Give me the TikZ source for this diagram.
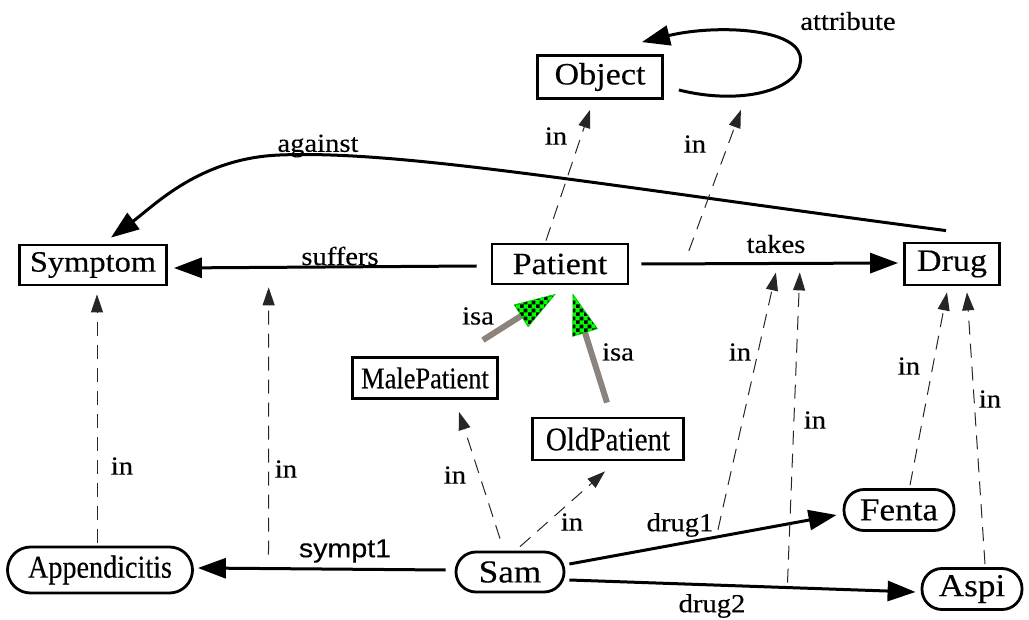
\documentclass[tikz,border=0pt]{standalone}
\usepackage{fontspec}
\setmainfont[FakeStretch=1.1,FakeBold=0.3]{Liberation Serif}
\newfontfamily\narrowserif[FakeStretch=0.88,FakeBold=0.3]{Liberation Serif}
\newfontfamily\labelsans[FakeStretch=1.1,FakeBold=0.3]{Liberation Sans}
\usetikzlibrary{arrows.meta,calc,patterns}

% checkered fill used in the heads of the isa arrows
\pgfdeclarepatternformonly{isacheck}{\pgfpointorigin}{\pgfqpoint{8pt}{8pt}}{\pgfqpoint{8pt}{8pt}}{%
  \pgfpathrectangle{\pgfpointorigin}{\pgfqpoint{4pt}{4pt}}%
  \pgfpathrectangle{\pgfqpoint{4pt}{4pt}}{\pgfqpoint{4pt}{4pt}}%
  \pgfusepath{fill}}

\definecolor{isagray}{RGB}{140,132,124}
\definecolor{isagreen}{RGB}{0,255,0}

\tikzset{
  classbox/.style={draw, line width=2.8pt, rectangle, inner sep=0pt,
    font=\fontsize{31}{36}\selectfont},
  instbox/.style={draw, line width=2.8pt, rectangle, rounded corners=20pt,
    inner sep=0pt, font=\fontsize{32}{38}\selectfont},
  rel/.style={-{Triangle[length=28pt,width=20pt]}, line width=3pt},
  inedge/.style={-{Triangle[length=18pt,width=12pt]}, line width=1pt,
    black!85, dash pattern=on 14pt off 9pt},
  lbl/.style={inner sep=0pt, font=\fontsize{26}{30}\selectfont},
  isashaft/.style={isagray, line width=6pt},
  isahead/.style={preaction={fill=isagreen}, pattern=isacheck,
    pattern color=black, draw=isagreen!80!black, line width=0.6pt},
}

% shaft and checkered head of an isa arrow from #1 to #2
\newcommand\isaarrow[2]{%
  \draw[isashaft] (#1) -- ($(#2)!38pt!(#1)$);
  \path[isahead] (#2)
    -- ($($(#2)!40pt!(#1)$)!13pt!90:(#2)$)
    -- ($($(#2)!40pt!(#1)$)!13pt!-90:(#2)$) -- cycle;
}

\begin{document}
\begin{tikzpicture}[x=1pt,y=-1pt]
\useasboundingbox (0,0) rectangle (1029,620);

% classes
\node[classbox, minimum width=125pt, minimum height=43pt] (Object) at (600,77) {Object};
\node[classbox, minimum width=147pt, minimum height=40pt,
  font=\fontsize{29.5}{34}\selectfont] (Symptom) at (93,265) {Symptom};
\node[classbox, minimum width=136pt, minimum height=40pt] (Patient) at (560,264) {Patient};
\node[classbox, minimum width=95pt, minimum height=42pt] (Drug) at (952,264) {Drug};
\node[classbox, minimum width=145pt, minimum height=41pt,
  font=\narrowserif\fontsize{30}{36}\selectfont] (MalePatient) at (425,378) {MalePatient};
\node[classbox, minimum width=151pt, minimum height=42pt,
  font=\narrowserif\fontsize{33}{38}\selectfont] (OldPatient) at (608,439) {OldPatient};

% instances
\node[instbox, minimum width=185pt, minimum height=46pt, rounded corners=23pt,
  font=\narrowserif\fontsize{32}{38}\selectfont] (Appendicitis) at (100,570) {Appendicitis};
\node[instbox, minimum width=108pt, minimum height=40pt] (Sam) at (510,572) {Sam};
\node[instbox, minimum width=110pt, minimum height=41pt] (Fenta) at (899,510) {Fenta};
\node[instbox, minimum width=100pt, minimum height=41pt] (Aspi) at (972,589) {Aspi};

% attribute relations between classes
\draw[rel] ($(Object.east)+(15,13)$)
  .. controls (747,107) and (807,87) .. (800,55)
  .. controls (792,27) and (712,25) .. ($(Object.north east)+(-22,-12)$);
\node[lbl] (lattribute) at (848,21) {attribute};

\draw[rel] ($(Drug.north)+(-6,-11)$)
  .. controls (600,185) and (400,150) .. (280,155)
  .. controls (200,158) and (155,205) .. ($(Symptom.north)+(18,-6)$);
\node[lbl] (lagainst) at (318,146) {against};

\draw[rel] ($(Patient.west)+(-14,2)$) -- ($(Symptom.east)+(6,3)$)
  coordinate[pos=0.687] (sufmid);
\node[lbl] (lsuffers) at (340,256) {suffers};

\draw[rel] ($(Patient.east)+(12,0)$) -- ($(Drug.west)+(-5,-1)$)
  coordinate[pos=0.185] (tkobj)
  coordinate[pos=0.524] (tk1)
  coordinate[pos=0.617] (tk2);
\node[lbl] (ltakes) at (776,244) {takes};

% attribute values of the instance
\draw[rel] ($(Sam.west)+(-9,-2)$) -- ($(Appendicitis.east)+(4,-2)$)
  coordinate[pos=0.715] (s1mid);
\node[lbl, font=\labelsans\fontsize{26}{30}\selectfont] (lsympt) at (345,551) {sympt1};

\draw[rel] ($(Sam.east)+(4,-8)$) -- ($(Fenta.west)+(-6,5)$)
  coordinate[pos=0.556] (d1mid);
\node[lbl] (ldrug1) at (680,525) {drug1};

\draw[rel] ($(Sam.east)+(4,8)$) -- ($(Aspi.west)+(-5,3)$)
  coordinate[pos=0.63] (d2mid);
\node[lbl] (ldrug2) at (712,606) {drug2};

% specialisation
\isaarrow{$(MalePatient.north east)+(-16,-16)$}{$(Patient.south)+(-5,9)$}
\node[lbl] (lisa1) at (478,316) {isa};
\isaarrow{$(OldPatient.north)+(-1,-14)$}{$(Patient.south)+(13,9)$}
\node[lbl] (lisa2) at (618,352) {isa};

% instance-of links
\draw[inedge] ($(Patient.north)+(-14,-2)$) -- ($(Object.south)+(-10,10)$);
\node[lbl] (lin1) at (556,136) {in};
\draw[inedge] ($(tkobj)+(0,-13)$) -- ($(Object.south east)+(77,10)$);
\node[lbl] (lin2) at (695,144) {in};
\draw[inedge] ($(Appendicitis.north)+(-3,-3)$) -- ($(Symptom.south)+(4,8)$);
\node[lbl] (lin3) at (122,466) {in};
\draw[inedge] ($(s1mid)+(0,-14)$) -- ($(sufmid)+(0,20)$);
\node[lbl] (lin4) at (286,469) {in};
\draw[inedge] ($(Sam.north)+(-10,-12)$) -- ($(MalePatient.south)+(34,12)$);
\node[lbl] (lin5) at (455,475) {in};
\draw[inedge] ($(Sam.north)+(10,-4)$) -- ($(OldPatient.south)+(-3,10)$);
\node[lbl] (lin6) at (572,522) {in};
\draw[inedge] ($(d1mid)+(0,-7)$) -- ($(tk1)+(0,9)$);
\node[lbl] (lin7) at (740,352) {in};
\draw[inedge] ($(d2mid)+(0,-5)$) -- ($(tk2)+(0,9)$);
\node[lbl] (lin8) at (815,420) {in};
\draw[inedge] ($(Fenta.north)+(11,-3)$) -- ($(Drug.south)+(-5,6)$);
\node[lbl] (lin9) at (909,366) {in};
\draw[inedge] ($(Aspi.north)+(13,-3)$) -- ($(Drug.south)+(15,6)$);
\node[lbl] (lin10) at (990,399) {in};
\end{tikzpicture}
\end{document}
